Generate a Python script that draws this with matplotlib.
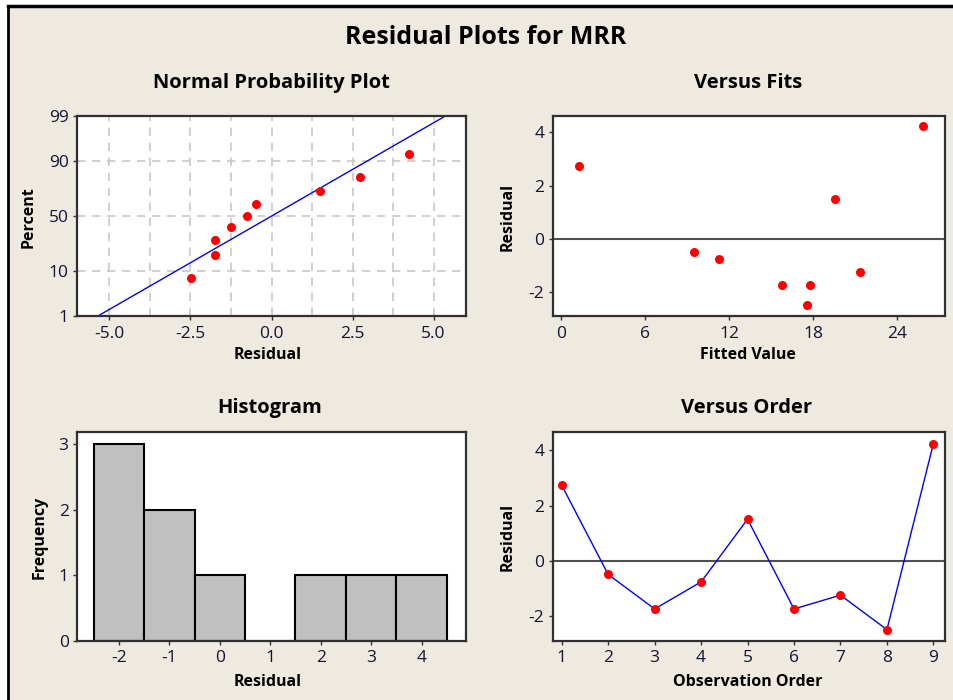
import numpy as np
import matplotlib
matplotlib.use('Agg')
import matplotlib.pyplot as plt
from matplotlib.patches import Rectangle
from matplotlib.lines import Line2D
from statistics import NormalDist

# residuals in observation order, and the fitted values
residuals = [2.74, -0.49, -1.74, -0.76, 1.51, -1.74, -1.24, -2.49, 4.25]
fitted = [1.28, 9.50, 15.75, 11.24, 19.55, 17.77, 21.33, 17.56, 25.82]
order = [1, 2, 3, 4, 5, 6, 7, 8, 9]
# percent (plotting positions) of the sorted residuals
percent = [7.6, 18.2, 28.8, 39.5, 49.8, 61.0, 71.8, 82.0, 92.5]
pct_ticks = [1, 10, 50, 90, 99]
hist_bins = [-2.5, -1.5, -0.5, 0.5, 1.5, 2.5, 3.5, 4.5]

plt.rcParams['font.family'] = ['Open Sans', 'DejaVu Sans']
plt.rcParams['axes.unicode_minus'] = False

W, H = 954, 700
beige = '#EEEAE0'
tick_col = '#141432'
spine_col = '#303030'

def fx(px):
    return px / W

def fy(py):
    return 1 - py / H

fig = plt.figure(figsize=(W / 100, H / 100), dpi=100)
fig.patch.set_facecolor('white')
fig.add_artist(Rectangle((fx(8), 0), 1 - fx(8), fy(6), transform=fig.transFigure,
                         facecolor=beige, edgecolor='none', zorder=-10))
fig.add_artist(Line2D([fx(8), fx(8)], [0, fy(6)], color='black', lw=2, transform=fig.transFigure))
fig.add_artist(Line2D([fx(8), 1], [fy(6), fy(6)], color='black', lw=2.5, transform=fig.transFigure))


def make_ax(left, top, right, bottom):
    ax = fig.add_axes([fx(left), fy(bottom), (right - left) / W, (bottom - top) / H])
    ax.set_facecolor('white')
    for s in ax.spines.values():
        s.set_color(spine_col)
        s.set_linewidth(1.6)
    ax.tick_params(direction='out', length=3, width=1, color=spine_col,
                   labelsize=12.5, labelcolor=tick_col, pad=3)
    ax.tick_params(axis='x', pad=4)
    return ax


def label(x, y, s, size=11.5, rot=0):
    fig.text(fx(x), fy(y), s, ha='center', va='center', rotation=rot,
             fontsize=size, fontweight='bold', color='black')


fig.text(fx(486), fy(38), 'Residual Plots for MRR', ha='center', va='center',
         fontsize=18, fontweight='bold')

# --- Normal probability plot ---
nd = NormalDist()
fwd = np.vectorize(lambda p: nd.inv_cdf(min(max(p / 100, 1e-9), 1 - 1e-9)), otypes=[float])
inv = np.vectorize(lambda z: nd.cdf(z) * 100, otypes=[float])

ax1 = make_ax(77, 116, 466, 316)
ax1.set_yscale('function', functions=(fwd, inv))
ax1.set_xlim(-6, 6)
ax1.set_ylim(1, 99)
ax1.set_yticks(pct_ticks)
ax1.set_yticklabels([str(t) for t in pct_ticks])
ax1.set_xticks(np.arange(-5, 5.1, 2.5))
ax1.set_xticks(np.arange(-5, 5.1, 1.25), minor=True)
ax1.set_xticklabels(['-5.0', '-2.5', '0.0', '2.5', '5.0'])
ax1.tick_params(axis='x', which='minor', length=0)
ax1.yaxis.set_minor_locator(matplotlib.ticker.NullLocator())
ax1.grid(True, which='both', color='#C8C8C8', lw=1.2, ls=(0, (5, 4)))
ax1.set_axisbelow(True)
mu = np.mean(residuals)
sd = np.std(residuals, ddof=1)
line_p = np.array([1.0, 99.0])
ax1.plot(mu + sd * fwd(line_p), line_p, color='blue', lw=1)
ax1.plot(np.sort(residuals), percent, 'o', color='red', ms=6.5, mec='none')
fig.text(fx(271.5), fy(83), 'Normal Probability Plot', ha='center', va='center',
         fontsize=14.5, fontweight='bold')
label(268, 355, 'Residual')
label(29, 217, 'Percent', rot=90)

# --- Versus fits ---
ax2 = make_ax(552.7, 116, 945, 316)
ax2.set_xlim(-0.6, 27.4)
ax2.set_ylim(-2.9, 4.62)
ax2.set_xticks([0, 6, 12, 18, 24])
ax2.set_yticks([-2, 0, 2, 4])
ax2.axhline(0, color='#505050', lw=1.5)
ax2.plot(fitted, residuals, 'o', color='red', ms=6.5, mec='none')
fig.text(fx(748), fy(83), 'Versus Fits', ha='center', va='center',
         fontsize=14.5, fontweight='bold')
label(748, 355, 'Fitted Value')
label(508, 217, 'Residual', rot=90)

# --- Histogram ---
ax3 = make_ax(77, 431.7, 466, 640.7)
ax3.hist(residuals, bins=hist_bins, color='#C0C0C0', edgecolor='black', lw=1.5)
ax3.set_xlim(-2.83, 4.88)
ax3.set_ylim(0, 3.19)
ax3.set_xticks([-2, -1, 0, 1, 2, 3, 4])
ax3.set_yticks([0, 1, 2, 3])
fig.text(fx(270), fy(408), 'Histogram', ha='center', va='center',
         fontsize=14.5, fontweight='bold')
label(268, 681.7, 'Residual')
label(40, 537, 'Frequency', rot=90)

# --- Versus order ---
ax4 = make_ax(552.7, 431.7, 945, 640.7)
ax4.set_xlim(0.806, 9.25)
ax4.set_ylim(-2.89, 4.68)
ax4.set_xticks(order)
ax4.set_yticks([-2, 0, 2, 4])
ax4.axhline(0, color='#505050', lw=1.5)
ax4.plot(order, residuals, color='blue', lw=1)
ax4.plot(order, residuals, 'o', color='red', ms=6.5, mec='none')
fig.text(fx(747), fy(408), 'Versus Order', ha='center', va='center',
         fontsize=14.5, fontweight='bold')
label(748, 681.7, 'Observation Order')
label(508, 537, 'Residual', rot=90)

fig.savefig('out.png', dpi=100, facecolor=fig.get_facecolor())
